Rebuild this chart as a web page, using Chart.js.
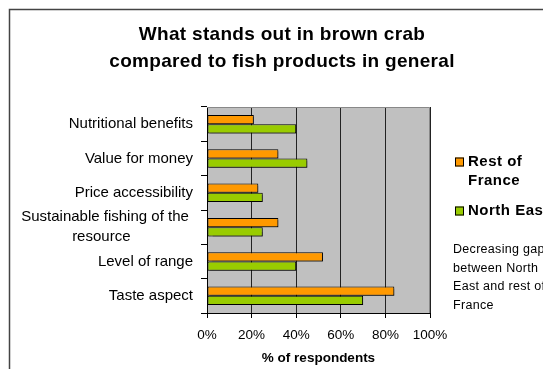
<!DOCTYPE html>
<html>
<head>
<meta charset="utf-8">
<script src="https://cdn.jsdelivr.net/npm/chart.js@4.4.0/dist/chart.umd.min.js"></script>
<style>
  html, body { margin: 0; padding: 0; background: #fff; }
  #wrap { width: 543px; height: 369px; }
</style>
</head>
<body>
<div id="wrap"><canvas id="crab" width="543" height="369"></canvas></div>
<script>
// survey answers, % of respondents
const categories = [
    'Nutritional benefits',
    'Value for money',
    'Price accessibility',
    ['Sustainable fishing of the ', 'resource' + ' '.repeat(15)], // 2nd line padded so it sits centred under the 1st
    'Level of range',
    'Taste aspect'
]
const restOfFrance = [21, 32, 23, 32, 52, 84]
const northEast = [40, 45, 25, 25, 40, 70]
const xTicks = [0, 20, 40, 60, 80, 100]

const titleLines = ['What stands out in brown crab', 'compared to fish products in general']
const noteLines = ['Decreasing gap', 'between North', 'East and rest of', 'France']

const FONT = '"Liberation Sans", Arial, sans-serif'

// frame, grey plot background, title, legend and side note
const decor = {
    id: 'decor',
    beforeDraw(chart) {
        const ctx = chart.ctx
        const a = chart.chartArea
        ctx.save()
        ctx.fillStyle = '#fff'
        ctx.fillRect(0, 0, chart.width, chart.height)
        ctx.strokeStyle = '#444'
        ctx.lineWidth = 1.5
        ctx.strokeRect(9.5, 9.5, chart.width + 20, chart.height + 20)
        ctx.fillStyle = '#c0c0c0'
        ctx.fillRect(a.left, a.top, a.right - a.left, a.bottom - a.top)
        ctx.restore()
    },
    beforeDatasetsDraw(chart) {
        const ctx = chart.ctx
        ctx.save()
        ctx.shadowColor = 'rgba(0,0,0,0.4)'
        ctx.shadowOffsetX = 2
        ctx.shadowOffsetY = 2
        ctx.shadowBlur = 1
    },
    afterDatasetsDraw(chart) {
        chart.ctx.restore()
    },
    afterDraw(chart) {
        const ctx = chart.ctx
        const a = chart.chartArea
        ctx.save()
        // plot border top / right
        ctx.strokeStyle = '#888'
        ctx.lineWidth = 1
        ctx.beginPath()
        ctx.moveTo(a.left, a.top + 0.5)
        ctx.lineTo(a.right - 0.5, a.top + 0.5)
        ctx.lineTo(a.right - 0.5, a.bottom)
        ctx.stroke()

        ctx.fillStyle = '#000'
        ctx.textBaseline = 'alphabetic'
        ctx.textAlign = 'center'
        ctx.letterSpacing = '0.3px'
        ctx.font = 'bold 19px ' + FONT
        ctx.fillText(titleLines[0], 282, 40)
        ctx.fillText(titleLines[1], 282, 67)

        // legend
        const items = [
            { color: '#ff9900', lines: ['Rest of', 'France'], y: 162 },
            { color: '#99cc00', lines: ['North East'], y: 211 }
        ]
        ctx.textAlign = 'left'
        ctx.textBaseline = 'middle'
        ctx.letterSpacing = '0.5px'
        ctx.font = 'bold 15px ' + FONT
        items.forEach(it => {
            ctx.fillStyle = it.color
            ctx.fillRect(455, it.y - 4.5, 9, 9)
            ctx.strokeStyle = '#000'
            ctx.strokeRect(455.5, it.y - 4, 8, 8)
            ctx.fillStyle = '#000'
            it.lines.forEach((t, i) => ctx.fillText(t, 468, it.y + i * 19))
        })

        ctx.letterSpacing = '0.3px'
        ctx.font = '12.5px ' + FONT
        noteLines.forEach((t, i) => ctx.fillText(t, 453, 250 + i * 18.5))
        ctx.restore()
    }
}

const data = {
    labels: categories,
    datasets: [
        {
            label: 'Rest of France',
            data: restOfFrance,
            backgroundColor: '#ff9900',
            borderColor: '#000',
            borderWidth: 1,
            borderSkipped: false
        },
        {
            label: 'North East',
            data: northEast,
            backgroundColor: '#99cc00',
            borderColor: '#000',
            borderWidth: 1,
            borderSkipped: false
        }
    ]
}

const config = {
    type: 'bar',
    data: data,
    options: {
        indexAxis: 'y',
        responsive: false,
        animation: false,
        categoryPercentage: 0.54,
        barPercentage: 1,
        layout: { padding: { top: 107, right: 113, left: 0, bottom: 0 } },
        plugins: {
            legend: { display: false },
            title: { display: false },
            tooltip: { enabled: false }
        },
        scales: {
            x: {
                min: 0,
                max: 100,
                afterBuildTicks: (s) => { s.ticks = xTicks.map(v => ({ value: v })) },
                afterFit: (s) => { s.height = 56 },
                grid: { color: '#222', lineWidth: 1, tickLength: 5, tickColor: '#000' },
                border: { color: '#000', width: 1 },
                ticks: {
                    padding: 9,
                    color: '#000',
                    font: { family: FONT, size: 13.5 },
                    callback: (v) => v + '%',
                    maxRotation: 0
                },
                title: {
                    display: true,
                    text: '% of respondents',
                    color: '#000',
                    font: { family: FONT, size: 13.5, weight: 'bold' },
                    padding: { top: 4, bottom: 3 }
                }
            },
            y: {
                afterFit: (s) => { s.width = 207 },
                grid: { drawOnChartArea: false, tickLength: 6, tickColor: '#000', offset: true },
                border: { color: '#000', width: 1 },
                ticks: {
                    autoSkip: false,
                    padding: 8,
                    color: '#000',
                    font: { family: FONT, size: 15, lineHeight: 1.35 }
                }
            }
        }
    },
    plugins: [decor]
}

new Chart(document.getElementById('crab'), config)
</script>
</body>
</html>
